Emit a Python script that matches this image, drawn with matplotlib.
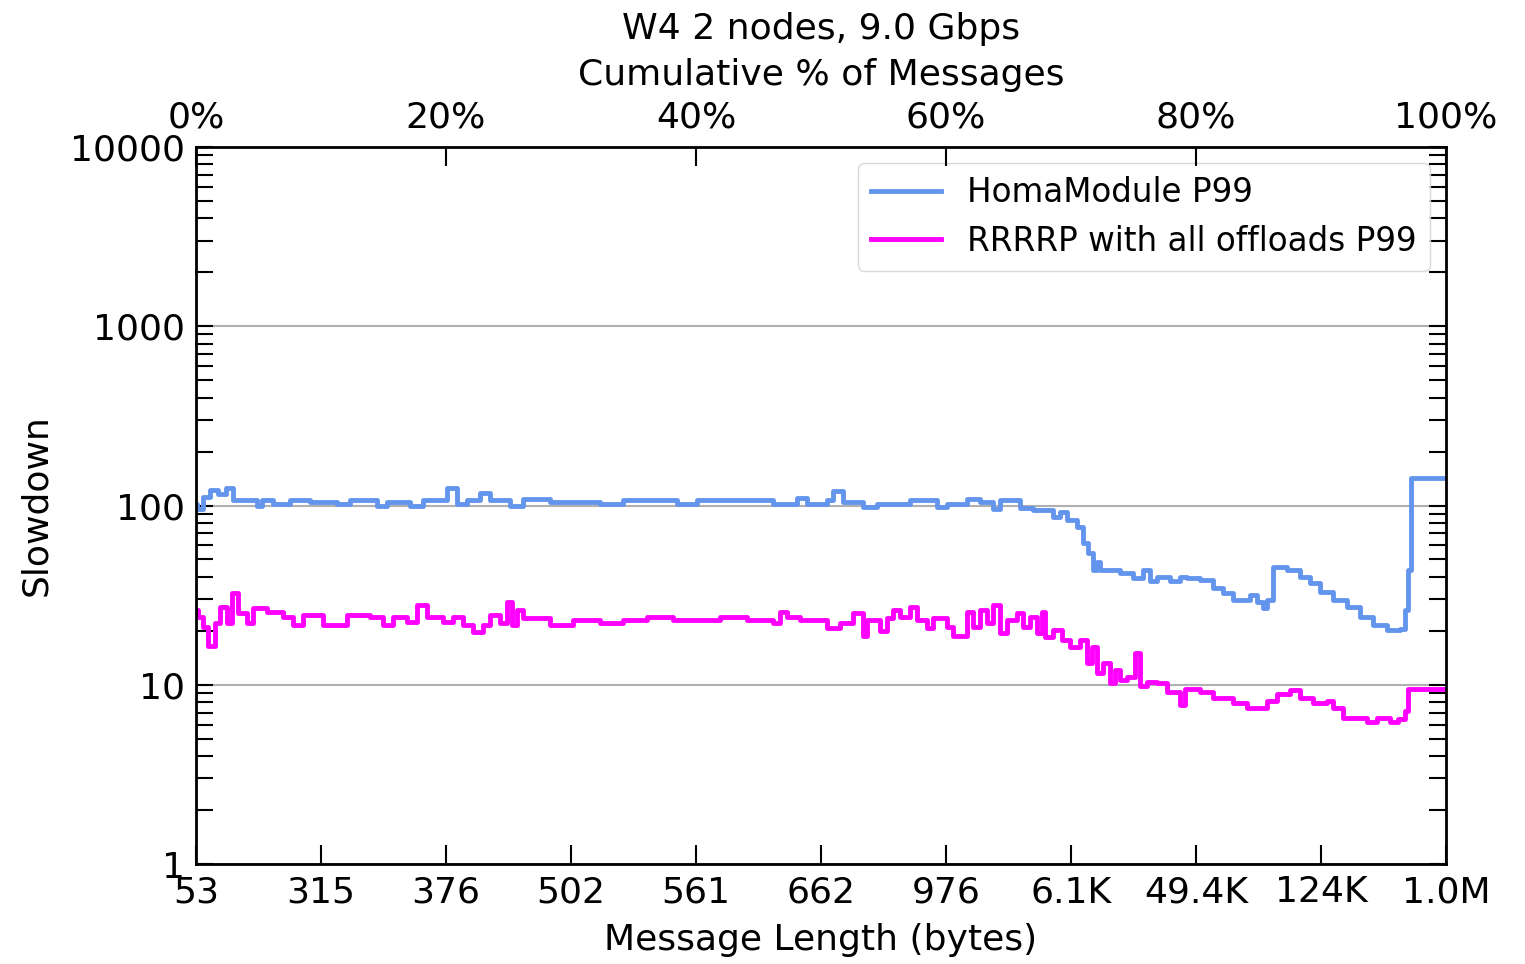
import matplotlib
matplotlib.use("Agg")
import matplotlib.pyplot as plt
from matplotlib.ticker import NullFormatter, LogLocator

# ---------------- data ----------------
bottom_tick_pcts = [0, 10, 20, 30, 40, 50, 60, 70, 80, 90, 100]
bottom_tick_labels = ["53", "315", "376", "502", "561", "662", "976",
                      "6.1K", "49.4K", "124K", "1.0M"]
top_tick_pcts = [0, 20, 40, 60, 80, 100]
top_tick_labels = ["0%", "20%", "40%", "60%", "80%", "100%"]

homa_pct = [0.00, 0.05, 0.59, 1.12, 1.80, 2.40, 2.99, 4.85, 5.25, 6.19, 7.52,
            9.12, 11.25, 12.32, 14.45, 15.25, 17.12, 18.19, 20.05, 20.85,
            21.65, 22.72, 23.52, 25.12, 26.19, 28.32, 32.32, 34.19, 38.45,
            40.05, 46.19, 48.05, 48.85, 50.45, 50.99, 51.79, 53.39, 54.45,
            57.12, 59.25, 60.05, 61.65, 62.72, 63.79, 64.32, 65.92, 66.99,
            68.59, 69.12, 69.65, 70.45, 70.99, 71.39, 71.79, 72.05, 72.32,
            73.92, 74.99, 75.79, 76.32, 76.85, 77.92, 78.72, 79.25, 80.32,
            81.39, 82.19, 82.99, 84.32, 84.85, 85.39, 85.65, 86.19, 87.25,
            88.32, 89.12, 89.92, 90.99, 92.05, 93.12, 94.19, 95.25, 96.32,
            96.72, 96.99, 97.17]
homa_p99 = [102, 96, 112, 122, 116, 126, 107, 100, 107, 102, 107,
            105, 102, 107, 100, 104, 100, 107, 125, 102,
            107, 118, 107, 100, 109, 104, 102, 107, 102,
            107, 102, 110, 102, 107, 120, 104, 98, 102,
            107, 98, 102, 109, 104, 96, 107, 96.5, 94.4,
            86.5, 92, 83, 76, 62, 54.4, 43.6, 48.6, 43.6,
            41.9, 39.4, 43.6, 37.7, 40.1, 37.7, 40.1, 39.4, 38.5,
            34.5, 32.3, 29.6, 31.6, 29, 26.8, 29.6, 45.5, 43.6,
            40.1, 36.9, 33, 29.6, 27.2, 24, 21.5, 20.2, 20.5,
            26, 43.6, 142]

rrrrp_pct = [0.00, 0.19, 0.59, 0.99, 1.52, 1.92, 2.45, 2.85, 3.39, 4.05, 4.59,
             5.65, 6.99, 7.79, 8.59, 10.19, 12.05, 13.92, 14.99, 15.79, 16.85,
             17.65, 18.45, 19.79, 20.59, 21.39, 22.19, 22.99, 23.52, 24.32,
             24.85, 25.25, 25.65, 26.19, 28.32, 30.19, 32.32, 34.19, 36.05,
             38.19, 41.92, 44.05, 46.19, 46.72, 47.25, 48.32, 50.45, 51.52,
             52.59, 53.39, 53.65, 54.72, 55.25, 55.79, 56.32, 57.12, 57.65,
             58.45, 58.99, 60.05, 60.59, 61.65, 62.19, 62.72, 63.25, 63.79,
             64.32, 64.85, 65.65, 66.19, 66.72, 67.25, 67.65, 67.92, 68.59,
             69.25, 69.92, 70.72, 71.25, 71.65, 72.05, 72.59, 73.12, 73.52,
             73.92, 74.45, 75.12, 75.52, 76.05, 76.85, 77.65, 78.72, 79.12,
             80.32, 81.39, 82.99, 84.05, 85.65, 86.45, 87.52, 88.32, 89.39,
             90.45, 90.99, 91.79, 93.65, 94.45, 95.52, 96.19, 96.72, 96.99]
rrrrp_p99 = [26, 23.9, 21, 16.5, 22, 27.2, 22, 32.3, 25, 22, 26.8,
             25.5, 24, 21.5, 24.5, 21.5, 24.5, 24, 21.5, 24, 22.5,
             27.8, 24, 22.5, 24, 21.5, 19.8, 21.5, 24.5, 22,
             29, 21.5, 26, 23.5, 21.5, 23, 22, 23, 24,
             23, 24, 23, 22, 25.5, 24, 23, 20.6, 22,
             25, 18.8, 23, 20, 23.5, 26, 24, 27.2, 23,
             20.6, 23.5, 21, 18.8, 25.5, 21, 26, 22, 27.8,
             19.4, 23, 25, 21, 24, 19.4, 25.5, 18.5, 20.2,
             17.8, 16.3, 17.8, 13.2, 16.3, 11.6, 13.2, 10.2, 12.1,
             10.6, 11.1, 15, 9.8, 10.4, 10.2, 9.1, 7.7, 9.5,
             9.1, 8.4, 7.9, 7.4, 8.1, 8.9, 9.3, 8.4, 7.9,
             8.1, 7.4, 6.5, 6.2, 6.5, 6.2, 6.4, 7.1, 9.5]

# ---------------- plot ----------------
FS = 26
LFS = 23.5
plt.rcParams['font.family'] = ['DejaVu Sans']
fig = plt.figure(figsize=(15.25, 9.64), dpi=100)
ax = fig.add_axes([196 / 1525, 1 - 864 / 964, 1250 / 1525, 717 / 964])

ax.step(homa_pct + [100], homa_p99 + [homa_p99[-1]], where='post',
        color='#6495ED', lw=3.5, label='HomaModule P99')
ax.step(rrrrp_pct + [100], rrrrp_p99 + [rrrrp_p99[-1]], where='post',
        color='#FF00FF', lw=3.5, label='RRRRP with all offloads P99')

ax.set_yscale('log')
ax.set_ylim(1, 10000)
ax.set_xlim(0, 100)
ax.set_yticks([1, 10, 100, 1000, 10000])
ax.set_yticklabels(["1", "10", "100", "1000", "10000"])
ax.yaxis.set_minor_locator(LogLocator(base=10, subs=range(2, 10)))
ax.yaxis.set_minor_formatter(NullFormatter())
ax.yaxis.grid(True, which='major', color='#b0b0b0', lw=1.5)
ax.set_axisbelow(True)

ax.set_xticks(bottom_tick_pcts)
ax.set_xticklabels(bottom_tick_labels)
ax.tick_params(axis='x', which='major', direction='in', length=14, width=1.5,
               labelsize=FS, pad=8, top=False)
ax.tick_params(axis='y', which='both', direction='in', length=12, width=1.5,
               labelsize=FS, right=True, pad=8)
for s in ax.spines.values():
    s.set_linewidth(2)

ax.set_xlabel('Message Length (bytes)', fontsize=FS, labelpad=10)
ax.set_ylabel('Slowdown', fontsize=FS, labelpad=12)

axt = ax.twiny()
axt.set_xlim(0, 100)
axt.set_xticks(top_tick_pcts)
axt.set_xticklabels(top_tick_labels)
axt.tick_params(axis='x', direction='in', length=14, width=1.5, labelsize=FS, pad=9)
axt.set_xlabel('Cumulative % of Messages', fontsize=FS, labelpad=11)
axt.set_title('W4 2 nodes, 9.0 Gbps', fontsize=FS, pad=14)

leg = ax.legend(loc='upper right', fontsize=LFS, frameon=True, fancybox=True,
                borderaxespad=0.5, handlelength=2.15, labelspacing=0.47)
leg.get_frame().set_edgecolor('#d0d0d0')

fig.savefig('out.png', dpi=100)
